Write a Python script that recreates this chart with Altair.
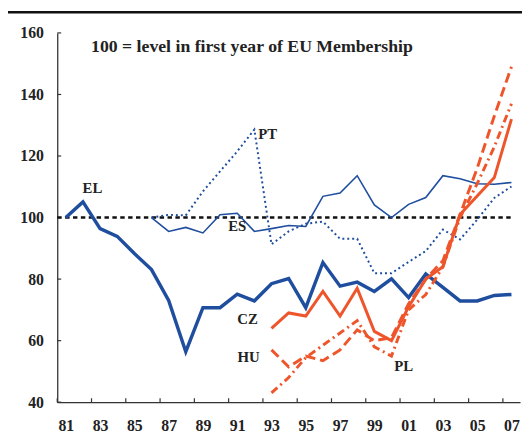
import altair as alt
import pandas as pd

# ---------------- data ----------------
years = list(range(1981, 2008))
N = None
el = [100, 105.1, 96.4, 93.9, 88.3, 83.1, 73.1, 56.4, 70.7, 70.7, 75.1, 72.9, 78.5, 80.2,
      70.7, 85.4, 77.7, 79.0, 76.0, 80.1, 74.0, 81.7, 77.3, 72.9, 72.9, 74.7, 75.0]
es = [N] * 5 + [100, 95.5, 96.8, 95.0, 100.9, 101.4, 95.5, 96.4, 97.4, 97.1, 106.9, 108.0,
                113.6, 104.1, 100.0, 104.3, 106.5, 113.6, 112.6, 111.0, 110.8, 111.4]
pt = [N] * 5 + [100, 100.9, 100.7, 108.5, 115.0, 121.5, 128.6, 91.3, 95.5, 98.0, 98.7, 93.1,
                93.1, 81.9, 81.9, 85.6, 89.1, 96.1, 92.9, 99.3, 106.4, 110.1]
cz = [N] * 12 + [64, 69, 68, 76, 68, 77, 63, 60, 71, 80, 84, 101, 107, 113, 132]
hu = [N] * 12 + [57, 51.5, 55, 53.5, 57, 63.5, 60, 61, 72, 80, 86, 101, 116, 133, 149]
pl = [N] * 12 + [43, 48, 54.5, 58.5, 62.5, 66.5, 58, 55, 70, 75, 84, 100, 111, 123, 137]

x_label_years = list(range(1981, 2008, 2))
x_tick_pos = [y - 0.5 for y in range(1981, 2008, 2)]
y_ticks = [40, 60, 80, 100, 120, 140, 160]
ref_line = {"year": [1980.5], "end": [2007], "value": [100]}

labels = ["EL", "PT", "ES", "CZ", "HU", "PL"]
label_x = [1982.55, 1992.78, 1991.0, 1991.6, 1991.66, 2000.71]
label_y = [109.5, 127.2, 97.3, 67.0, 54.8, 51.6]
note_text = ["100 = level in first year of EU Membership"]
note_x = [1991.86]
note_y = [155.5]

# ---------------- style ----------------
W, H = 470, 375
FONT = "Liberation Serif"
BLUE = "#1f4e9f"
ORANGE = "#ef552b"
AX = "#333333"

xscale = alt.Scale(domain=[1980.5, 2007.5], nice=False, zero=False)
yscale = alt.Scale(domain=[40, 160], nice=False, zero=False)

X_AX = alt.Axis(
    values=x_label_years, labelExpr="substring(toString(datum.value), 2)",
    ticks=False, tickSize=0, grid=False, title=None, domainColor=AX, domainWidth=1.3,
    labelFont=FONT, labelFontWeight="bold", labelFontSize=16, labelColor="#222222",
    labelPadding=16, labelFlush=False, labelOverlap=False)
Y_AX = alt.Axis(
    values=y_ticks, ticks=False, tickSize=0, grid=False, title=None, domainColor=AX,
    domainWidth=1.3, labelFont=FONT, labelFontWeight="bold", labelFontSize=16,
    labelColor="#222222", labelPadding=14, labelFlush=False, labelOverlap=False)


def X(field="year"):
    return alt.X(f"{field}:Q", scale=xscale, axis=X_AX)


def Y(field="value"):
    return alt.Y(f"{field}:Q", scale=yscale, axis=Y_AX)


def series_df(vals):
    return pd.DataFrame({"year": years, "value": vals}).dropna()


def line(vals, color, width, dash=None):
    kw = dict(color=color, strokeWidth=width, strokeCap="butt", strokeJoin="miter")
    if dash:
        kw["strokeDash"] = dash
    return alt.Chart(series_df(vals)).mark_line(**kw).encode(x=X(), y=Y())


xt = alt.Chart(pd.DataFrame({"year": x_tick_pos})).mark_rule(color=AX, strokeWidth=1.2).encode(
    x=X(), y=alt.value(H), y2=alt.value(H - 4))
yt = alt.Chart(pd.DataFrame({"value": y_ticks})).mark_rule(color=AX, strokeWidth=1.2).encode(
    y=Y(), x=alt.value(0), x2=alt.value(4))

ref = alt.Chart(pd.DataFrame(ref_line)).mark_rule(
    color="#111111", strokeWidth=2.5, strokeDash=[4.5, 3.5]).encode(
    x=X(), x2="end:Q", y=Y())

top_rule = alt.Chart(pd.DataFrame({"a": [0]})).mark_rule(color="#111111", strokeWidth=2.5).encode(
    x=alt.value(-50), x2=alt.value(W + 2), y=alt.value(-21))

txt = alt.Chart(pd.DataFrame({"year": label_x, "value": label_y, "t": labels})).mark_text(
    font=FONT, fontWeight="bold", fontSize=15, color="#222222").encode(
    x=X(), y=Y(), text="t:N")

note = alt.Chart(pd.DataFrame({"year": note_x, "value": note_y, "t": note_text})).mark_text(
    font=FONT, fontWeight="bold", fontSize=18, color="#222222").encode(
    x=X(), y=Y(), text="t:N")

chart = alt.layer(
    xt, yt, ref,
    line(es, BLUE, 1.6),
    line(pt, BLUE, 2.0, [2, 3]),
    line(el, BLUE, 3.5),
    line(pl, ORANGE, 3.0, [8, 4, 2, 4]),
    line(hu, ORANGE, 3.0, [10, 5]),
    line(cz, ORANGE, 3.0),
    txt, note, top_rule,
).properties(
    width=W, height=H,
    padding={"left": 50, "top": 22, "right": 2, "bottom": 30},
    autosize="none",
).configure_view(stroke=None)

chart.save("out.html", embed_options={"renderer": "svg", "actions": False})
